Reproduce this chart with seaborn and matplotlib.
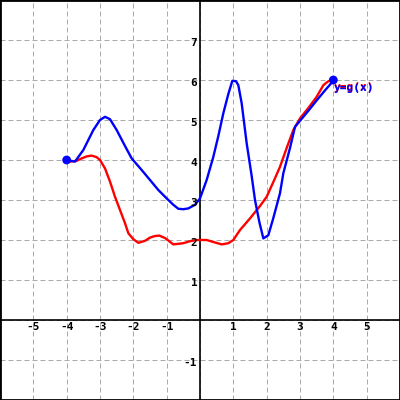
import matplotlib
matplotlib.use("Agg")
import matplotlib.pyplot as plt
import matplotlib.transforms as mtransforms
import seaborn as sns
import pandas as pd

# Blue curve (y = g(x))
blue_x = [-4, -3.75, -3.5, -3.2, -3.0, -2.85, -2.7, -2.5, -2.25, -2.05, -1.75, -1.5, -1.25, -1.0,
          -0.8, -0.65, -0.5, -0.35, -0.15, 0, 0.2, 0.4, 0.55, 0.7, 0.85, 0.97, 1.08, 1.15, 1.25,
          1.4, 1.55, 1.65, 1.78, 1.9, 2.05, 2.2, 2.4, 2.5, 2.7, 2.85, 3.0, 3.25, 3.5, 3.75, 4.0]
blue_y = [4.0, 3.96, 4.25, 4.75, 5.0, 5.08, 5.02, 4.75, 4.35, 4.04, 3.75, 3.5, 3.25, 3.04,
          2.88, 2.78, 2.77, 2.79, 2.88, 3.04, 3.5, 4.08, 4.6, 5.17, 5.65, 5.98, 5.97, 5.87, 5.42,
          4.42, 3.6, 3.0, 2.45, 2.04, 2.12, 2.55, 3.17, 3.67, 4.3, 4.83, 4.98, 5.23, 5.49, 5.74, 5.98]

# Red curve
red_x = [-4.0, -3.9, -3.7, -3.55, -3.4, -3.25, -3.1, -3.0, -2.85, -2.7, -2.55, -2.4, -2.25, -2.15,
         -2.0, -1.85, -1.65, -1.5, -1.35, -1.22, -1.05, -0.8, -0.5, -0.3, -0.1, 0.2, 0.4, 0.65,
         0.85, 1.0, 1.2, 1.5, 1.8, 2.0, 2.2, 2.4, 2.6, 2.8, 3.0, 3.25, 3.5, 3.7, 3.85, 4.0]
red_y = [4.0, 3.96, 3.98, 4.04, 4.09, 4.11, 4.07, 4.0, 3.79, 3.46, 3.08, 2.75, 2.42, 2.17,
         2.02, 1.93, 1.98, 2.06, 2.1, 2.11, 2.05, 1.89, 1.92, 1.97, 2.0, 2.0, 1.95, 1.89,
         1.92, 2.0, 2.25, 2.54, 2.85, 3.08, 3.45, 3.83, 4.3, 4.75, 5.04, 5.3, 5.58, 5.87, 5.97, 6.0]

dot_x = [-4, 4]
dot_y = [4, 6]

x_ticks = [-5, -4, -3, -2, -1, 1, 2, 3, 4, 5]
y_ticks = [-1, 1, 2, 3, 4, 5, 6, 7]
curve_label = "y=g(x)"

sns.set_style("white")
plt.rcParams['font.family'] = ['DejaVu Sans Mono', 'DejaVu Sans']

fig = plt.figure(figsize=(4, 4), dpi=100)
ax = fig.add_axes([0, 0, 1, 1])
ax.set_xlim(-6, 6)
ax.set_ylim(-2, 8)

# grid
for gx in range(-5, 6):
    ax.axvline(gx, color="#aaaaaa", lw=0.72, dashes=(5, 3), zorder=0)
for gy in range(-1, 8):
    ax.axhline(gy, color="#aaaaaa", lw=0.72, dashes=(5, 3), zorder=0)

ax.axhline(0, color="black", lw=1.2, zorder=1)
ax.axvline(0, color="black", lw=1.2, zorder=1)

red_df = pd.DataFrame({"x": red_x, "y": red_y})
blue_df = pd.DataFrame({"x": blue_x, "y": blue_y})
sns.lineplot(data=red_df, x="x", y="y", sort=False, estimator=None, color="#ff0000", lw=1.7, ax=ax, zorder=3)
sns.lineplot(data=blue_df, x="x", y="y", sort=False, estimator=None, color="#0000ff", lw=1.7, ax=ax, zorder=4)
sns.scatterplot(x=dot_x, y=dot_y, color="#0000ff", s=40, edgecolor="none", ax=ax, zorder=5)

ax.set_xticks([])
ax.set_yticks([])
ax.set_xlabel("")
ax.set_ylabel("")

for t in x_ticks:
    ax.text(t, -0.06, str(t), ha="center", va="top",
            fontsize=8, fontweight="bold", color="black", zorder=6)
for t in y_ticks:
    ax.text(-0.08, t - 0.08, str(t), ha="right", va="center",
            fontsize=8, fontweight="bold", color="black", zorder=6)

shadow = mtransforms.offset_copy(ax.transData, fig=fig, x=-0.8, y=0.8, units="dots")
ax.text(4.02, 5.8, curve_label, transform=shadow, ha="left", va="center", fontsize=8,
        fontweight="bold", color="#ff0000", zorder=6)
ax.text(4.02, 5.8, curve_label, ha="left", va="center", fontsize=8,
        fontweight="bold", color="#0000ff", zorder=7)

for s in ax.spines.values():
    s.set_visible(True)
    s.set_color("black")
    s.set_linewidth(2)

fig.savefig("out.png", dpi=100)
